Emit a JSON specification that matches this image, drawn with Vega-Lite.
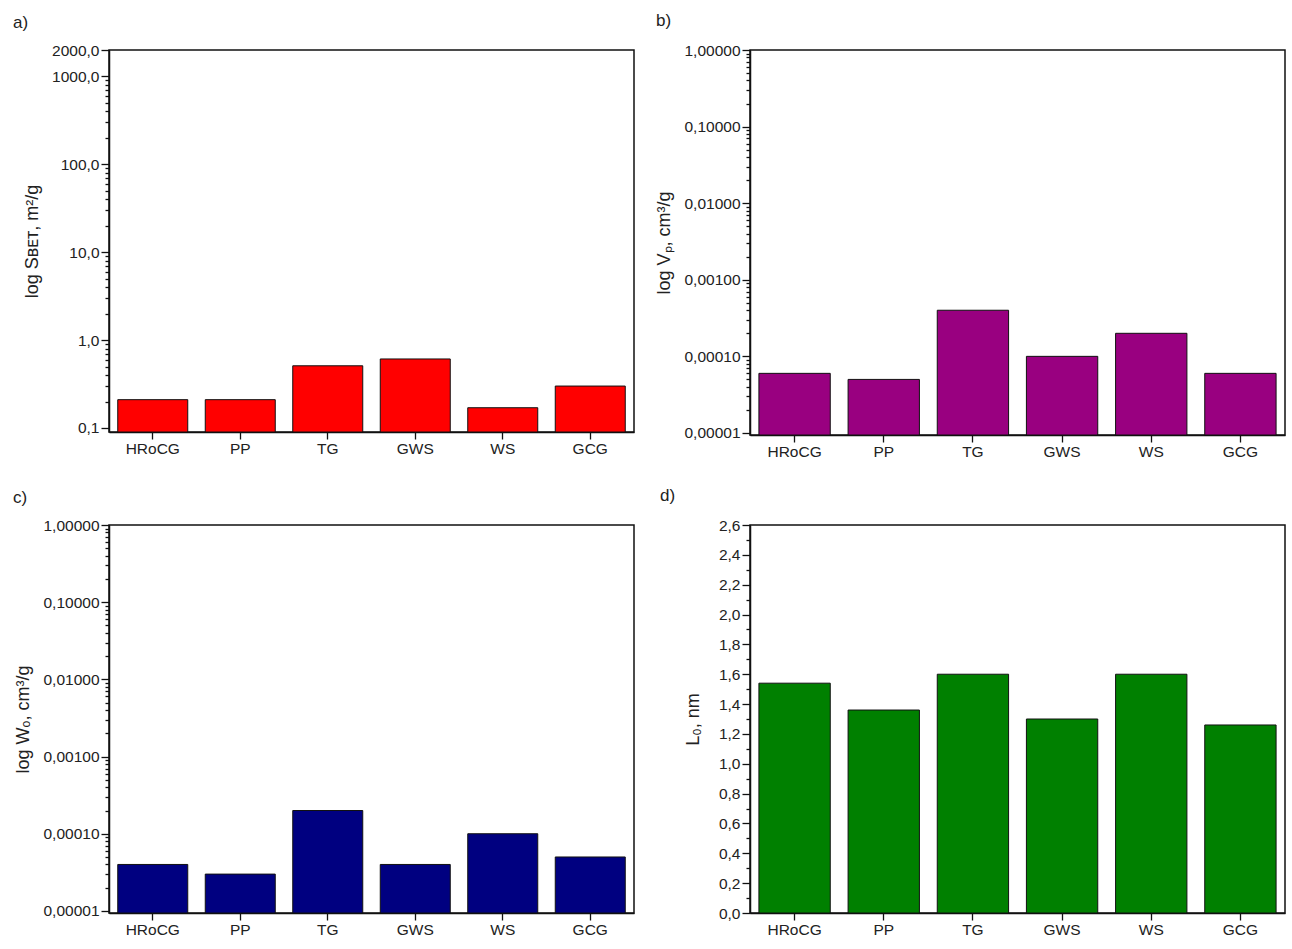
{
  "$schema": "https://vega.github.io/schema/vega-lite/v6.json",
  "background": "white",
  "padding": {"left": 12, "top": 11, "right": 2, "bottom": 2},
  "datasets": {
    "d": [
      {"sample": "HRoCG", "S": 0.21, "Vp": 0.00006, "W0": 0.00004, "L0": 1.54},
      {"sample": "PP", "S": 0.21, "Vp": 0.00005, "W0": 0.00003, "L0": 1.36},
      {"sample": "TG", "S": 0.51, "Vp": 0.0004, "W0": 0.0002, "L0": 1.60},
      {"sample": "GWS", "S": 0.61, "Vp": 0.0001, "W0": 0.00004, "L0": 1.30},
      {"sample": "WS", "S": 0.17, "Vp": 0.0002, "W0": 0.0001, "L0": 1.60},
      {"sample": "GCG", "S": 0.30, "Vp": 0.00006, "W0": 0.00005, "L0": 1.26}
    ]
  },
  "data": {"name": "d"},
  "columns": 2,
  "align": "each",
  "spacing": {"row": 25, "column": 20},
  "concat": [
    {
      "width": 525, "height": 382,
      "title": {"text": "a)", "anchor": "start", "frame": "group", "dx": -96, "offset": 11},
      "mark": {"type": "bar", "color": "#ff0000", "stroke": "#111111", "strokeWidth": 1},
      "encoding": {
        "x": {"field": "sample", "type": "nominal", "sort": ["HRoCG", "PP", "TG", "GWS", "WS", "GCG"],
              "scale": {"paddingInner": 0.2, "paddingOuter": 0.1},
              "axis": {"title": null, "labelAngle": 0, "tickSize": 7, "labelPadding": 2}},
        "y": {"field": "S", "type": "quantitative",
              "scale": {"type": "log", "domain": [0.09, 2000], "nice": false},
              "axis": {
                "title": "log Sʙᴇᴛ, m²/g",
                "titlePadding": 10,
                "values": [0.1, 0.2, 0.3, 0.4, 0.5, 0.6, 0.7, 0.8, 0.9, 1, 2, 3, 4, 5, 6, 7, 8, 9, 10, 20, 30, 40, 50, 60, 70, 80, 90, 100, 200, 300, 400, 500, 600, 700, 800, 900, 1000, 2000],
                "labelExpr": "(abs(log(datum.value)/LN10 - round(log(datum.value)/LN10)) < 1e-6 || datum.value == 2000) ? replace(format(datum.value, '.1f'), '.', ',') : ''",
                "tickSize": {"condition": {"test": "abs(log(datum.value)/LN10 - round(log(datum.value)/LN10)) < 1e-6 || datum.value == 2000", "value": 8}, "value": 4}
              }},
        "y2": {"datum": 0.09}
      }
    },
    {
      "width": 535, "height": 385,
      "title": {"text": "b)", "anchor": "start", "frame": "group", "dx": -94, "offset": 13},
      "mark": {"type": "bar", "color": "#990080", "stroke": "#111111", "strokeWidth": 1},
      "encoding": {
        "x": {"field": "sample", "type": "nominal", "sort": ["HRoCG", "PP", "TG", "GWS", "WS", "GCG"],
              "scale": {"paddingInner": 0.2, "paddingOuter": 0.1},
              "axis": {"title": null, "labelAngle": 0, "tickSize": 7, "labelPadding": 2}},
        "y": {"field": "Vp", "type": "quantitative",
              "scale": {"type": "log", "domain": [0.0000094, 1], "nice": false},
              "axis": {
                "title": "log Vₚ, cm³/g",
                "titlePadding": 10,
                "values": [0.00001, 0.00002, 0.00003, 0.00004, 0.00005, 0.00006, 0.00007, 0.00008, 0.00009, 0.0001, 0.0002, 0.0003, 0.0004, 0.0005, 0.0006, 0.0007, 0.0008, 0.0009, 0.001, 0.002, 0.003, 0.004, 0.005, 0.006, 0.007, 0.008, 0.009, 0.01, 0.02, 0.03, 0.04, 0.05, 0.06, 0.07, 0.08, 0.09, 0.1, 0.2, 0.3, 0.4, 0.5, 0.6, 0.7, 0.8, 0.9, 1],
                "labelExpr": "abs(log(datum.value)/LN10 - round(log(datum.value)/LN10)) < 1e-6 ? replace(format(datum.value, '.5f'), '.', ',') : ''",
                "tickSize": {"condition": {"test": "abs(log(datum.value)/LN10 - round(log(datum.value)/LN10)) < 1e-6", "value": 8}, "value": 4}
              }},
        "y2": {"datum": 0.0000094}
      }
    },
    {
      "width": 525, "height": 388,
      "title": {"text": "c)", "anchor": "start", "frame": "group", "dx": -96, "offset": 11},
      "mark": {"type": "bar", "color": "#000080", "stroke": "#111111", "strokeWidth": 1},
      "encoding": {
        "x": {"field": "sample", "type": "nominal", "sort": ["HRoCG", "PP", "TG", "GWS", "WS", "GCG"],
              "scale": {"paddingInner": 0.2, "paddingOuter": 0.1},
              "axis": {"title": null, "labelAngle": 0, "tickSize": 7, "labelPadding": 2}},
        "y": {"field": "W0", "type": "quantitative",
              "scale": {"type": "log", "domain": [0.0000094, 1], "nice": false},
              "axis": {
                "title": "log Wₒ, cm³/g",
                "titlePadding": 10,
                "values": [0.00001, 0.00002, 0.00003, 0.00004, 0.00005, 0.00006, 0.00007, 0.00008, 0.00009, 0.0001, 0.0002, 0.0003, 0.0004, 0.0005, 0.0006, 0.0007, 0.0008, 0.0009, 0.001, 0.002, 0.003, 0.004, 0.005, 0.006, 0.007, 0.008, 0.009, 0.01, 0.02, 0.03, 0.04, 0.05, 0.06, 0.07, 0.08, 0.09, 0.1, 0.2, 0.3, 0.4, 0.5, 0.6, 0.7, 0.8, 0.9, 1],
                "labelExpr": "abs(log(datum.value)/LN10 - round(log(datum.value)/LN10)) < 1e-6 ? replace(format(datum.value, '.5f'), '.', ',') : ''",
                "tickSize": {"condition": {"test": "abs(log(datum.value)/LN10 - round(log(datum.value)/LN10)) < 1e-6", "value": 8}, "value": 4}
              }},
        "y2": {"datum": 0.0000094}
      }
    },
    {
      "width": 535, "height": 388,
      "title": {"text": "d)", "anchor": "start", "frame": "group", "dx": -90, "offset": 13},
      "mark": {"type": "bar", "color": "#008000", "stroke": "#111111", "strokeWidth": 1},
      "encoding": {
        "x": {"field": "sample", "type": "nominal", "sort": ["HRoCG", "PP", "TG", "GWS", "WS", "GCG"],
              "scale": {"paddingInner": 0.2, "paddingOuter": 0.1},
              "axis": {"title": null, "labelAngle": 0, "tickSize": 7, "labelPadding": 2}},
        "y": {"field": "L0", "type": "quantitative",
              "scale": {"domain": [0, 2.6], "nice": false},
              "axis": {
                "title": "L₀, nm",
                "titlePadding": 16,
                "values": [0, 0.1, 0.2, 0.3, 0.4, 0.5, 0.6, 0.7, 0.8, 0.9, 1, 1.1, 1.2, 1.3, 1.4, 1.5, 1.6, 1.7, 1.8, 1.9, 2, 2.1, 2.2, 2.3, 2.4, 2.5, 2.6],
                "labelExpr": "round(datum.value*10) % 2 == 0 ? replace(format(datum.value, '.1f'), '.', ',') : ''",
                "tickSize": {"condition": {"test": "round(datum.value*10) % 2 == 0", "value": 8}, "value": 4}
              }}
      }
    }
  ],
  "config": {
    "font": "Liberation Sans",
    "view": {"stroke": "#111111", "strokeWidth": 1.5},
    "axis": {
      "grid": false,
      "domainColor": "#111111", "domainWidth": 1.5,
      "tickColor": "#111111", "tickWidth": 1.3,
      "labelColor": "#222222", "labelFontSize": 15.5, "labelFont": "Liberation Sans",
      "titleColor": "#222222", "titleFontSize": 18, "titleFont": "Liberation Sans", "titleFontWeight": "normal"
    },
    "title": {"fontSize": 17, "fontWeight": "normal", "font": "Liberation Sans", "color": "#222222"}
  }
}
